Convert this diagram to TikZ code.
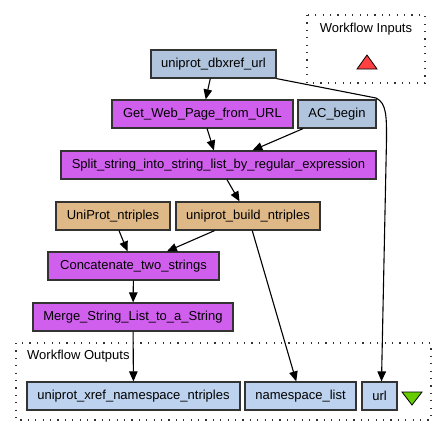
\documentclass[tikz,border=0pt]{standalone}
\usepackage{fontspec}
\setmainfont{Liberation Sans}
\usepackage{xcolor}
\usepackage{tikz}
\usetikzlibrary{arrows.meta}

\definecolor{inblue}{HTML}{B0C4DE}
\definecolor{outblue}{HTML}{BCD2EE}
\definecolor{procpurple}{HTML}{D15FEE}
\definecolor{consttan}{HTML}{DEB887}
\definecolor{tridred}{HTML}{FF4040}
\definecolor{trigreen}{HTML}{66CD00}

\begin{document}
\begin{tikzpicture}[x=1pt,y=-1pt,
    font=\fontsize{13}{15}\selectfont,
    box/.style={draw=black!80,line width=1.2pt,minimum height=28pt,inner sep=0pt},
    inport/.style={box,fill=inblue},
    outport/.style={box,fill=outblue},
    proc/.style={box,fill=procpurple},
    const/.style={box,fill=consttan},
    group/.style={draw=black!80,line width=1.4pt,dash pattern=on 1.2pt off 6.2pt},
    edge/.style={line width=1.1pt,-{Triangle[length=10pt,width=8.5pt]}}]
    \useasboundingbox (0,0) rectangle (448,437);
    % workflow inputs
    \draw[group] (307,15) rectangle (425,83);
    \node (inlabel) at (366,29) {Workflow Inputs};
    \draw[fill=tridred,line width=0.8pt] (357,69) -- (377,69) -- (367,55) -- cycle;
    % workflow outputs
    \draw[group] (16,343) rectangle (431,420);
    \node[anchor=west,inner sep=0pt] (outlabel) at (27,356) {Workflow Outputs};
    \draw[fill=trigreen,line width=0.8pt] (402,392) -- (422,392) -- (412,405) -- cycle;
    % nodes
    \node[inport,minimum width=125pt] (dbxref) at (213.5,64) {uniprot\_dbxref\_url};
    \node[proc,minimum width=181pt] (getweb) at (202.5,114) {Get\_Web\_Page\_from\_URL};
    \node[inport,minimum width=78pt] (acbegin) at (337,114) {AC\_begin};
    \node[proc,minimum width=315pt] (split) at (218.5,165) {Split\_string\_into\_string\_list\_by\_regular\_expression};
    \node[const,minimum width=114pt] (ntriples) at (113,216) {UniProt\_ntriples};
    \node[const,minimum width=144pt] (build) at (248,216) {uniprot\_build\_ntriples};
    \node[proc,minimum width=171pt] (concat) at (133.5,266) {Concatenate\_two\_strings};
    \node[proc,minimum width=200pt] (merge) at (133,317) {Merge\_String\_List\_to\_a\_String};
    \node[outport,minimum width=213pt] (xrefout) at (133.5,396) {uniprot\_xref\_namespace\_ntriples};
    \node[outport,minimum width=111pt] (nslist) at (300.5,396) {namespace\_list};
    \node[outport,minimum width=35pt] (urlout) at (379.5,396) {url};
    % links
    \coordinate (bendA) at (376,98);
    \coordinate (bendB) at (386.5,140);
    \draw[edge] (dbxref) to (getweb);
    \draw[edge] (getweb) to (split);
    \draw[edge] (acbegin) to (split);
    \draw[edge] (split) to (build);
    \draw[edge] (ntriples) to (concat);
    \draw[edge] (build) to (concat);
    \draw[edge] (build) to (nslist);
    \draw[edge] (concat) to (merge);
    \draw[edge] (merge) to (xrefout);
    \draw[edge] (dbxref.south east) -- (bendA) .. controls (387,103) and (386.5,118) .. (bendB) -- ([xshift=2pt]urlout.north);
\end{tikzpicture}
\end{document}
